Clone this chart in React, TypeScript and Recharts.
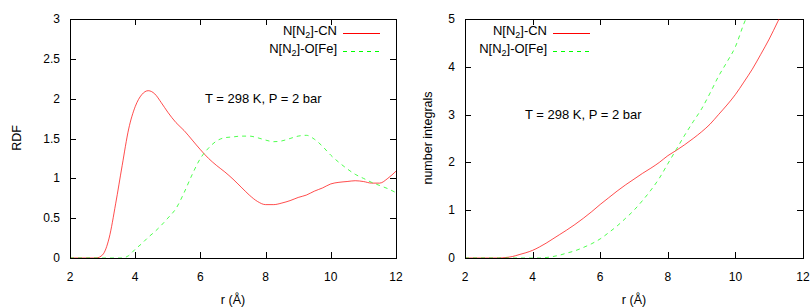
import { LineChart, Line, XAxis, YAxis, Legend } from 'recharts';

const FONT = '"Liberation Sans", Arial, sans-serif';
const INK = '#000000';

// sample points r (Å)
const r = [
  2, 2.5, 2.8, 3, 3.2, 3.4, 3.6, 3.8, 4, 4.2, 4.4, 4.6, 4.8, 5, 5.25, 5.5, 5.75, 6, 6.25, 6.5, 6.75,
  7, 7.25, 7.5, 7.75, 8, 8.25, 8.5, 8.75, 9, 9.25, 9.5, 9.75, 10, 10.25, 10.5, 10.75, 11, 11.25, 11.5, 11.75, 12,
];

const rdfCN = [
  0, 0, 0, 0.04, 0.25, 0.68, 1.16, 1.62, 1.9, 2.05, 2.1, 2.06, 1.95, 1.83, 1.7, 1.6, 1.48, 1.36, 1.25, 1.16, 1.08,
  0.99, 0.89, 0.79, 0.71, 0.67, 0.67, 0.69, 0.72, 0.76, 0.79, 0.84, 0.88, 0.93, 0.95, 0.96, 0.97, 0.96, 0.94, 0.94, 1.0, 1.09,
];

const rdfOFe = [
  0, 0, 0, 0, 0, 0, 0, 0.03, 0.11, 0.18, 0.26, 0.33, 0.41, 0.5, 0.62, 0.82, 1.05, 1.25, 1.38, 1.47, 1.51,
  1.52, 1.53, 1.53, 1.51, 1.48, 1.46, 1.47, 1.5, 1.53, 1.54, 1.49, 1.4, 1.29, 1.2, 1.12, 1.05, 1.0, 0.95, 0.91, 0.87, 0.82,
];

const nCN = [
  0, 0, 0, 0, 0.01, 0.03, 0.07, 0.11, 0.16, 0.23, 0.31, 0.4, 0.49, 0.58, 0.7, 0.83, 0.97, 1.12, 1.26, 1.4, 1.53,
  1.65, 1.77, 1.88, 2.0, 2.14, 2.25, 2.37, 2.5, 2.64, 2.8, 3.0, 3.2, 3.42, 3.68, 3.95, 4.26, 4.58, 4.94, 5.3, 5.7, 6.15,
];

const nOFe = [
  0, 0, 0, 0, 0, 0, 0, 0, 0, 0, 0.01, 0.03, 0.06, 0.1, 0.15, 0.22, 0.3, 0.4, 0.53, 0.67, 0.83,
  1.0, 1.2, 1.42, 1.67, 1.97, 2.27, 2.57, 2.85, 3.12, 3.45, 3.8, 4.1, 4.42, 4.9, 5.3, 5.7, 6.1, 6.5, 6.9, 7.3, 7.7,
];

const xTicks = [2, 4, 6, 8, 10, 12];
const rdfTicks = [0, 0.5, 1, 1.5, 2, 2.5, 3];
const nTicks = [0, 1, 2, 3, 4, 5];

const seriesNames = ['N[N_2]-CN', 'N[N_2]-O[Fe]'];
const annotation = 'T = 298 K, P = 2 bar';

const rdfData = r.map((x, i) => ({ r: x, cn: rdfCN[i], ofe: rdfOFe[i] }));
const nData = r.map((x, i) => ({ r: x, cn: nCN[i], ofe: nOFe[i] }));

// tick label + inward tick at bottom, mirrored inward tick at top
const XTick = (props: any) => {
  const { x, y, payload, frameTop } = props;
  const px = Math.round(x) + 0.5;
  return (
    <g>
      <path d={`M${px},${y}V${y - 6}M${px},${frameTop}V${frameTop + 6}`} stroke={INK} strokeWidth={1} fill="none" />
      <text x={x} y={y + 23} textAnchor="middle" fontSize={12} fontFamily={FONT} fill={INK}>
        {payload.value}
      </text>
    </g>
  );
};

const YTick = (props: any) => {
  const { x, y, payload, frameRight } = props;
  const py = Math.round(y) + 0.5;
  return (
    <g>
      <path d={`M${x},${py}H${x + 6}M${frameRight},${py}H${frameRight - 6}`} stroke={INK} strokeWidth={1} fill="none" />
      <text x={x - 10} y={y + 4} textAnchor="end" fontSize={12} fontFamily={FONT} fill={INK}>
        {payload.value}
      </text>
    </g>
  );
};

const renderName = (name: string) => {
  const [a, b] = name.split('_2');
  return (
    <>
      {a}
      <sub style={{ fontSize: 9, verticalAlign: -3 }}>2</sub>
      {b}
    </>
  );
};

const LegendContent = (props: any) => {
  const { payload } = props;
  return (
    <div style={{ fontFamily: FONT, fontSize: 13 }}>
      {(payload || []).map((entry: any) => (
        <div key={entry.value} style={{ display: 'flex', alignItems: 'center', justifyContent: 'flex-end', height: 18 }}>
          <span style={{ lineHeight: '18px' }}>{renderName(entry.value)}</span>
          <svg width={43} height={18} style={{ display: 'block' }}>
            <line
              x1={6}
              x2={43}
              y1={9.5}
              y2={9.5}
              stroke={entry.color}
              strokeDasharray={entry.payload?.strokeDasharray}
            />
          </svg>
        </div>
      ))}
    </div>
  );
};

type PanelProps = {
  data: any[];
  yTicks: number[];
  yMax: number;
  yLabel: string;
  yAxisWidth: number;
  margin: { top: number; right: number; bottom: number; left: number };
  legendStyle: any;
  noteX: number;
  noteY: number;
  yLabelX: number;
};

const Panel = ({ data, yTicks, yMax, yLabel, yAxisWidth, margin, legendStyle, noteX, noteY, yLabelX }: PanelProps) => {
  const plotLeft = margin.left + yAxisWidth;
  const plotRight = 406 - margin.right;
  const plotBottom = 307 - margin.bottom - 30;
  const midX = (plotLeft + plotRight) / 2;
  return (
    <div style={{ position: 'relative', width: 406, height: 307 }}>
      {/* plot frame */}
      <div
        style={{
          position: 'absolute',
          left: plotLeft,
          top: margin.top,
          width: plotRight - plotLeft - 1,
          height: plotBottom - margin.top - 1,
          border: `1px solid ${INK}`,
          pointerEvents: 'none',
        }}
      />
      <LineChart width={406} height={307} data={data} margin={margin}>
        <XAxis
          dataKey="r"
          type="number"
          domain={[2, 12]}
          ticks={xTicks}
          interval={0}
          height={30}
          tickSize={0}
          tickMargin={0}
          tickLine={false}
          tick={<XTick frameTop={margin.top} />}
          axisLine={false}
        />
        <YAxis
          type="number"
          domain={[0, yMax]}
          ticks={yTicks}
          interval={0}
          allowDataOverflow
          width={yAxisWidth}
          tickSize={0}
          tickMargin={0}
          tickLine={false}
          tick={<YTick frameRight={plotRight} />}
          axisLine={false}
        />
        <Line
          dataKey="cn"
          name={seriesNames[0]}
          type="monotone"
          stroke="#ff0000"
          strokeWidth={0.7}
          dot={false}
          isAnimationActive={false}
        />
        <Line
          dataKey="ofe"
          name={seriesNames[1]}
          type="monotone"
          stroke="#00ff00"
          strokeWidth={0.7}
          strokeDasharray="4 4"
          dot={false}
          isAnimationActive={false}
        />
        <Legend
          layout="vertical"
          align="center"
          verticalAlign="middle"
          content={<LegendContent />}
          wrapperStyle={legendStyle}
        />
        <text x={noteX} y={noteY + 4.5} fontSize={13} fontFamily={FONT} fill={INK}>
          {annotation}
        </text>
        <text
          x={yLabelX}
          y={138}
          transform={`rotate(-90 ${yLabelX} 138)`}
          textAnchor="middle"
          dominantBaseline="central"
          fontSize={12.5}
          fontFamily={FONT}
          fill={INK}
        >
          {yLabel}
        </text>
        <text x={midX} y={304} textAnchor="middle" fontSize={12.5} fontFamily={FONT} fill={INK}>
          r (Å)
        </text>
      </LineChart>
    </div>
  );
};

export default function App() {
  return (
    <div style={{ position: 'absolute', left: 0, top: 0, width: 812, height: 307, background: '#fff' }}>
      <div style={{ position: 'absolute', left: 0, top: 0 }}>
        <Panel
          data={rdfData}
          yTicks={rdfTicks}
          yMax={3}
          yLabel="RDF"
          yAxisWidth={60}
          margin={{ top: 19, right: 10, bottom: 19, left: 10 }}
          legendStyle={{ top: 24, right: 26, left: 'auto', width: 'auto' }}
          noteX={205}
          noteY={98}
          yLabelX={17}
        />
      </div>
      <div style={{ position: 'absolute', left: 406, top: 0 }}>
        <Panel
          data={nData}
          yTicks={nTicks}
          yMax={5}
          yLabel="number integrals"
          yAxisWidth={50}
          margin={{ top: 19, right: 9, bottom: 19, left: 9 }}
          legendStyle={{ top: 24, left: 'auto', right: 222, width: 'auto' }}
          noteX={119}
          noteY={114}
          yLabelX={22}
        />
      </div>
    </div>
  );
}
